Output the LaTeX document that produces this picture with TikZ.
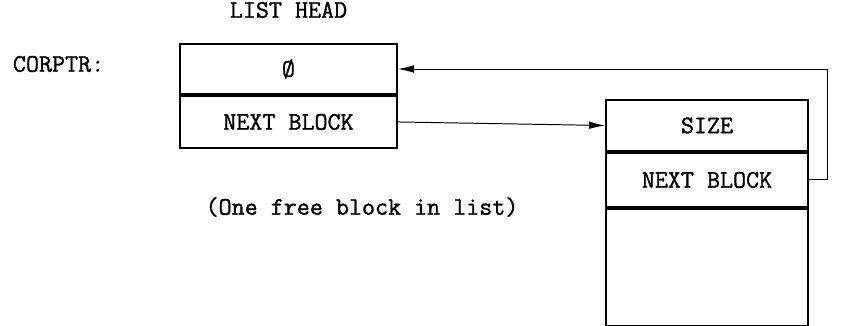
\documentclass[tikz,border=0pt]{standalone}
\usepackage{fontspec}
\newfontfamily\typefont[FakeBold=1.2]{Latin Modern Mono}
\usetikzlibrary{calc, positioning, arrows.meta}

\begin{document}
\begin{tikzpicture}[font=\fontsize{18}{21}\selectfont\typefont,
    cell/.style={draw, line width=1.4pt, inner sep=0pt, minimum width=#1},
    link/.style={-{Latex[length=4mm, width=1.9mm]}, line width=0.7pt}]
  \useasboundingbox (0, 0) rectangle (21.075, -8.15);
  % List head with its two words
  \node[cell=5.425cm, minimum height=1.25cm] (headtop) at (7.2125, -1.725) {Ø};
  \node[cell=5.425cm, minimum height=1.3cm, below=0pt of headtop] (headnext)
    {NEXT BLOCK};
  \node[above=0.5cm of headtop] (headlbl) {LIST HEAD};
  \node[anchor=west] (corptr) at (0.2, -1.6) {CORPTR:};
  \node (caption) at (9.05, -5.175) {(One free block in list)};
  % The free block
  \node[cell=5.05cm, minimum height=1.275cm] (sizecell) at (17.675, -3.1375) {SIZE};
  \node[cell=5.05cm, minimum height=1.35cm, below=0pt of sizecell] (nextcell)
    {NEXT BLOCK};
  \node[cell=5.05cm, minimum height=2.925cm, below=0pt of nextcell] (freecell) {};
  % Pointers
  \draw[link] (headnext.east) -- (sizecell.west);
  \draw[link] (nextcell.east) -- ++(0.45, 0) |- (headtop.east);
\end{tikzpicture}
\end{document}
